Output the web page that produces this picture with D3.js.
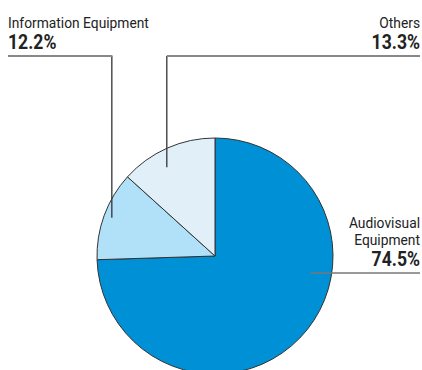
<!DOCTYPE html>
<html>
<head>
<meta charset="utf-8">
<script src="https://cdn.jsdelivr.net/npm/d3@7/dist/d3.min.js"></script>
<style>
  html, body { margin: 0; padding: 0; background: #fff; }
  svg { display: block; }
  text { font-family: "Roboto", "Liberation Sans", sans-serif; fill: #222; }
</style>
</head>
<body>
<svg id="chart" width="422" height="370"></svg>
<script>
// Share of sales by product category (%)
const categories = ["Audiovisual Equipment", "Information Equipment", "Others"];
const shares = [74.5, 12.2, 13.3];
const labelLines = [["Audiovisual", "Equipment"], ["Information Equipment"], ["Others"]];
const sliceColors = ["#0090d6", "#b0e1f9", "#e1eff9"];

const width = 422, height = 370;
const cx = 215, cy = 256, radius = 118;

// Narrow type: regular glyphs squeezed horizontally
const nameSize = 15, nameSqueeze = 0.92;
const valueSize = 20, valueSqueeze = 0.88;

// Callout placement for each slice: anchor in polar form (degrees clockwise
// from 12 o'clock, distance from centre) and where the label block sits.
const callouts = [
  { angle: 100, dist: 97, lineY: 273, textX: 420, align: "end" },
  { angle: 290.3, dist: 110, lineY: 56, textX: 8, align: "start", lineStart: 8 },
  { angle: 331.5, dist: 101, lineY: 56, textX: 420, align: "end", lineEnd: 420 }
];

const svg = d3.select("#chart");

const pie = d3.pie().sort(null).value(d => d)(shares);
const arc = d3.arc().innerRadius(0).outerRadius(radius);

const g = svg.append("g").attr("transform", `translate(${cx},${cy})`);
g.selectAll("path.slice")
  .data(pie)
  .join("path")
  .attr("class", "slice")
  .attr("d", arc)
  .attr("fill", (d, i) => sliceColors[i])
  .attr("stroke", "#333")
  .attr("stroke-width", 1)
  .attr("stroke-linejoin", "round");

const polar = (deg, r) => {
  const a = deg * Math.PI / 180;
  return [cx + r * Math.sin(a), cy - r * Math.cos(a)];
};

function narrowText(x, y, str, size, squeeze, anchor, bold) {
  svg.append("g")
    .attr("transform", `translate(${x},${y}) scale(${squeeze},1)`)
    .append("text")
    .attr("text-anchor", anchor)
    .attr("font-size", size)
    .attr("font-weight", bold ? "bold" : "normal")
    .text(str);
}

categories.forEach((cat, i) => {
  const c = callouts[i];
  const [ax, ay] = polar(c.angle, c.dist);
  const lines = svg.append("g");

  if (i === 0) {
    // horizontal leader straight out to the right edge
    lines.append("line")
      .attr("x1", ax).attr("y1", c.lineY).attr("x2", c.textX).attr("y2", c.lineY)
      .attr("stroke", "#777").attr("stroke-width", 1.5);
  } else {
    // vertical drop from the slice to the underline of the label
    lines.append("line")
      .attr("x1", ax).attr("y1", ay).attr("x2", ax).attr("y2", c.lineY)
      .attr("stroke", "#333").attr("stroke-width", 1.3);
    const x1 = c.align === "start" ? c.lineStart : ax;
    const x2 = c.align === "start" ? ax + 0.6 : c.lineEnd;
    lines.append("line")
      .attr("x1", x1).attr("y1", c.lineY).attr("x2", x2).attr("y2", c.lineY)
      .attr("stroke", "#888").attr("stroke-width", 2);
  }

  const nameLines = labelLines[i];
  const valueBaseline = c.lineY - 7;
  const nameStep = 17;
  const firstNameBaseline = valueBaseline - 21 - nameStep * (nameLines.length - 1);

  nameLines.forEach((t, k) => {
    narrowText(c.textX, firstNameBaseline + k * nameStep, t, nameSize, nameSqueeze, c.align, false);
  });
  narrowText(c.textX, valueBaseline, d3.format(".1f")(shares[i]) + "%", valueSize, valueSqueeze, c.align, true);
});
</script>
</body>
</html>
